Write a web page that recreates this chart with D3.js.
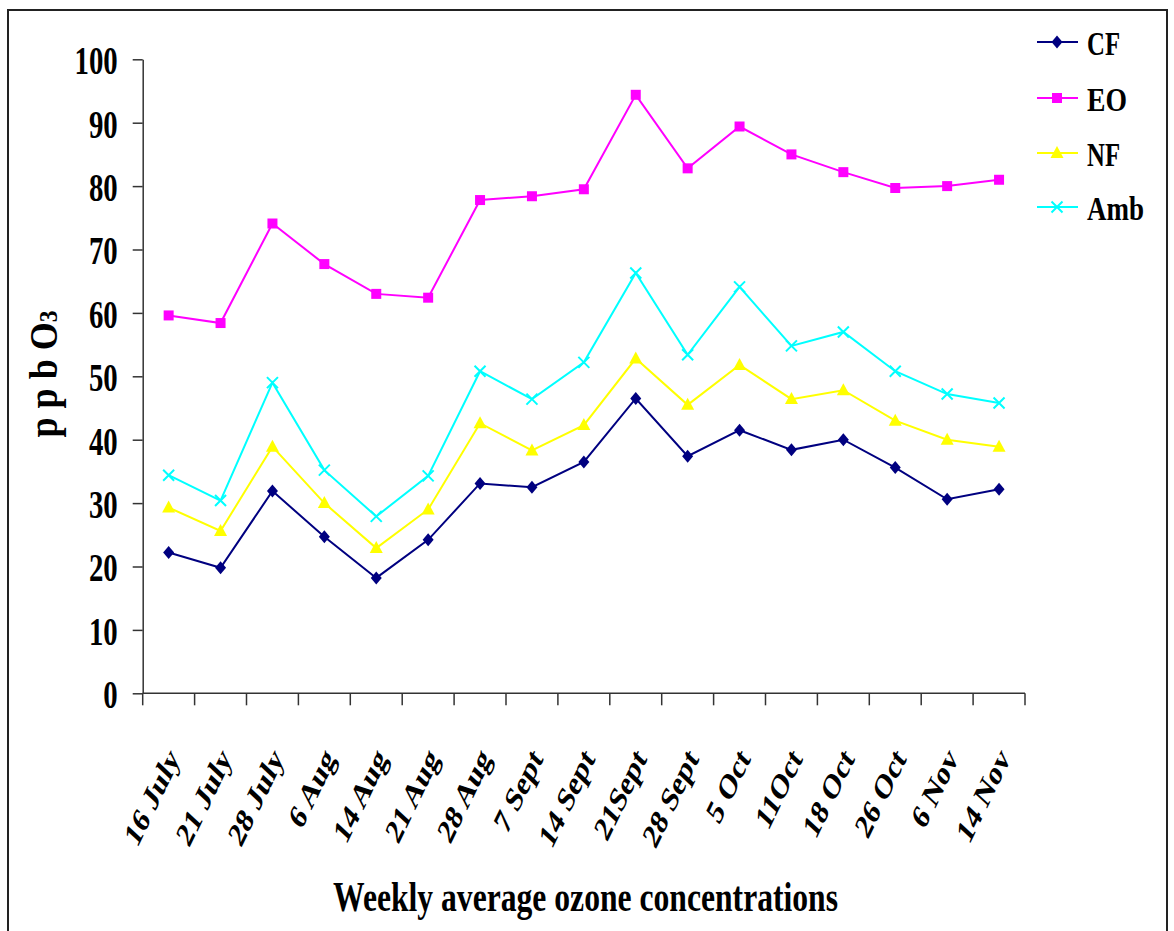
<!DOCTYPE html>
<html>
<head>
<meta charset="utf-8">
<script src="https://cdn.jsdelivr.net/npm/d3@7"></script>
<style>
  html, body { margin: 0; padding: 0; background: #fff; }
  svg { display: block; }
  text { font-family: "Liberation Serif", "Times New Roman", serif; font-weight: bold; fill: #000; }
</style>
</head>
<body>
<svg id="chart" width="1174" height="931"></svg>
<script>
const categories = ["16 July","21 July","28 July","6 Aug","14 Aug","21 Aug","28 Aug","7 Sept","14 Sept","21Sept","28 Sept","5 Oct","11Oct","18 Oct","26 Oct","6 Nov","14 Nov"];
const CF  = [22.2,19.8,31.9,24.7,18.2,24.2,33.1,32.5,36.5,46.5,37.4,41.5,38.4,40.0,35.6,30.6,32.2];
const EO  = [59.6,58.4,74.1,67.7,63.0,62.4,77.8,78.4,79.5,94.4,82.8,89.4,85.0,82.2,79.7,80.0,81.0];
const NF  = [29.3,25.6,38.9,30.0,22.9,29.0,42.6,38.3,42.3,52.8,45.5,51.8,46.4,47.8,43.0,40.0,38.9];
const Amb = [34.4,30.4,49.0,35.2,27.9,34.3,50.8,46.4,52.2,66.3,53.4,64.1,54.8,57.0,50.8,47.2,45.8];
const yTicks = [0,10,20,30,40,50,60,70,80,90,100];
const seriesNames = ["CF","EO","NF","Amb"];
const seriesColors = ["#000080","#FF00FF","#FFFF00","#00FFFF"];
const yTitle = "p p b  O";
const xTitle = "Weekly average ozone concentrations";

const seriesData = [CF, EO, NF, Amb];
const svg = d3.select("#chart");

// outer border
svg.append("rect").attr("x", 8).attr("y", 10).attr("width", 1159).attr("height", 940)
  .attr("fill", "none").attr("stroke", "#222").attr("stroke-width", 2);

const x = d3.scaleBand().domain(categories).range([142.7, 1025]);
const y = d3.scaleLinear().domain([0, 100]).range([693.3, 59.3]);

// Y axis
const yAxis = svg.append("g").attr("transform", "translate(142.7,0)")
  .call(d3.axisLeft(y).tickValues(yTicks).tickSize(10).tickSizeOuter(0).tickPadding(0));
yAxis.select(".domain").attr("stroke", "#333").attr("stroke-width", 1.5);
yAxis.selectAll(".tick line").attr("stroke", "#333").attr("stroke-width", 1.5);
yAxis.selectAll(".tick text")
  .attr("x", -25).attr("dy", "0.36em")
  .style("font-size", "40px").style("font-family", "Liberation Serif, serif").style("font-weight", "bold")
  .attr("fill", "#000")
  .attr("textLength", d => String(d).length * 14.4)
  .attr("lengthAdjust", "spacingAndGlyphs");

// X axis (ticks at band boundaries)
const xAxisG = svg.append("g");
xAxisG.append("line").attr("x1", x.range()[0]).attr("x2", x.range()[1])
  .attr("y1", y(0)).attr("y2", y(0)).attr("stroke", "#333").attr("stroke-width", 1.5);
const edges = categories.map(c => x(c)).concat([x(categories[categories.length - 1]) + x.bandwidth()]);
xAxisG.selectAll("line.xt").data(edges).join("line").attr("class", "xt")
  .attr("x1", d => d).attr("x2", d => d).attr("y1", y(0)).attr("y2", y(0) + 12)
  .attr("stroke", "#333").attr("stroke-width", 1.5);
xAxisG.selectAll("text.xl").data(categories).join("text").attr("class", "xl")
  .attr("text-anchor", "end")
  .style("font-size", "35px")
  .attr("transform", d => `translate(${x(d) + x.bandwidth() / 2 + 12},759) scale(0.72,1) rotate(-56)`)
  .text(d => d);

// lines
const line = d3.line().x((d, i) => x(categories[i]) + x.bandwidth() / 2).y(d => y(d));
seriesData.forEach((s, k) => {
  svg.append("path").datum(s).attr("d", line).attr("fill", "none")
    .attr("stroke", seriesColors[k]).attr("stroke-width", 2);
});

// markers
function drawMarker(g, k, cx, cy) {
  const col = seriesColors[k];
  if (k === 0) {
    g.append("path").attr("d", `M${cx},${cy-6.5}L${cx+5.5},${cy}L${cx},${cy+6.5}L${cx-5.5},${cy}Z`).attr("fill", col);
  } else if (k === 1) {
    g.append("rect").attr("x", cx - 5).attr("y", cy - 5).attr("width", 10).attr("height", 10).attr("fill", col);
  } else if (k === 2) {
    g.append("path").attr("d", `M${cx},${cy-7}L${cx+6.5},${cy+5}L${cx-6.5},${cy+5}Z`).attr("fill", col);
  } else {
    g.append("path").attr("d", `M${cx-5.5},${cy-5.5}L${cx+5.5},${cy+5.5}M${cx+5.5},${cy-5.5}L${cx-5.5},${cy+5.5}`)
      .attr("stroke", col).attr("stroke-width", 2).attr("fill", "none");
  }
}
const mg = svg.append("g");
seriesData.forEach((s, k) => {
  s.forEach((v, i) => drawMarker(mg, k, x(categories[i]) + x.bandwidth() / 2, y(v)));
});

// legend
const legendY = [42, 98, 153, 207];
const legendW = [33, 40, 33, 57];
seriesNames.forEach((n, k) => {
  const ly = legendY[k];
  svg.append("line").attr("x1", 1037).attr("x2", 1078).attr("y1", ly).attr("y2", ly)
    .attr("stroke", seriesColors[k]).attr("stroke-width", 2);
  drawMarker(svg, k, 1057, ly);
  svg.append("text").attr("x", 1087).attr("y", ly + 13).style("font-size", "34px")
    .attr("textLength", legendW[k]).attr("lengthAdjust", "spacingAndGlyphs").text(n);
});

// axis titles
svg.append("text").attr("x", 585.5).attr("y", 911).attr("text-anchor", "middle")
  .style("font-size", "42px").attr("textLength", 505).attr("lengthAdjust", "spacingAndGlyphs")
  .text(xTitle);

const yt = svg.append("text").attr("text-anchor", "middle")
  .attr("transform", "translate(57,374) rotate(-90)")
  .style("font-size", "40px")
  .attr("textLength", 127).attr("lengthAdjust", "spacingAndGlyphs");
yt.append("tspan").text(yTitle);
yt.append("tspan").style("font-size", "26px").text("3");
</script>
</body>
</html>
